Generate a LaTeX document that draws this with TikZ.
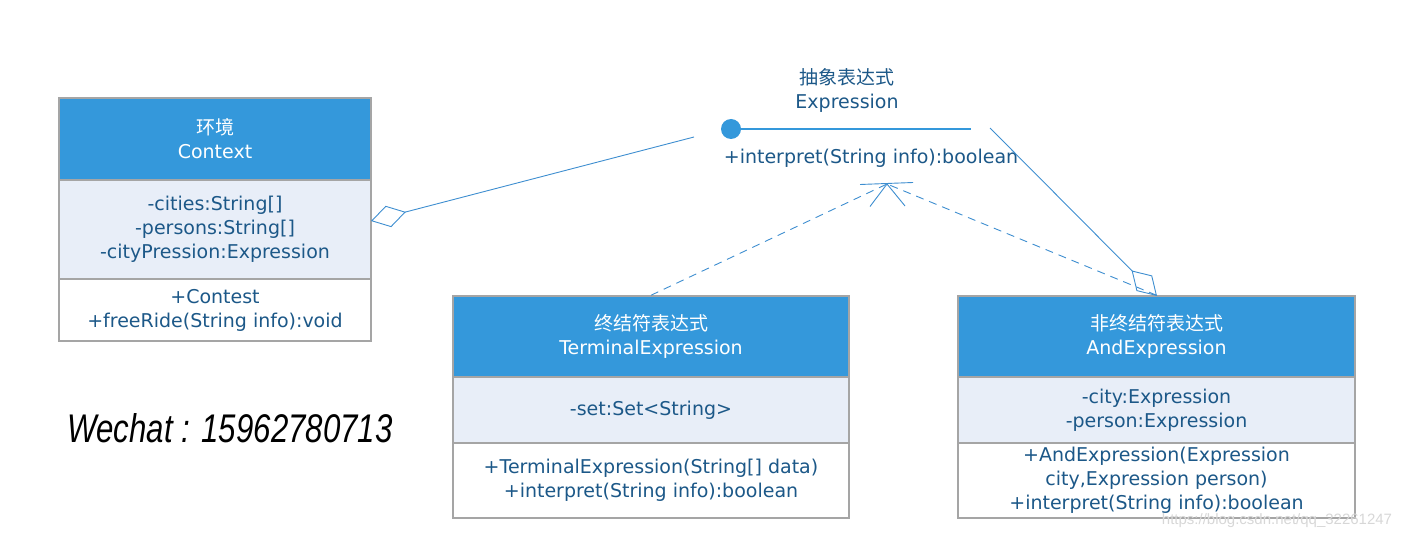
\documentclass[tikz,border=0pt]{standalone}
\usepackage{fontspec}
\setmainfont{DejaVu Sans}
\newfontfamily\cjk{Noto Sans CJK SC}
\newfontfamily\wmfont{Liberation Sans}
\usetikzlibrary{arrows.meta}
\definecolor{hdrblue}{RGB}{52,152,219}
\definecolor{attrfill}{RGB}{232,238,248}
\definecolor{boxgray}{RGB}{165,165,165}
\definecolor{txtblue}{RGB}{28,88,136}
\definecolor{linkblue}{RGB}{62,142,208}
\definecolor{wmgray}{RGB}{215,215,215}
\begin{document}
\begin{tikzpicture}[x=1pt,y=-1pt,
  comp/.style={draw=boxgray, line width=1.5pt, inner sep=0pt, align=center,
    text=txtblue, font=\fontsize{19}{24}\selectfont},
  hdr/.style={comp, fill=hdrblue, text=white},
  attrbox/.style={comp, fill=attrfill},
  methbox/.style={comp, fill=white},
  plain/.style={inner sep=0pt, align=center, text=txtblue, font=\fontsize{19}{24}\selectfont},
  link/.style={draw=linkblue, line width=0.9pt},
  realize/.style={link, dash pattern=on 8pt off 6pt},
  agg/.style={link, -{Diamond[open, length=36pt, width=22pt, line width=0.9pt]}}
]
\useasboundingbox (0,0) rectangle (1408,540);

% Context
\node[hdr, minimum width=312pt, minimum height=82pt] (ctxh) at (215,139) {{\cjk 环境}\\Context};
\node[attrbox, minimum width=312pt, minimum height=99pt] (ctxa) at (215,229.5) {-cities:String[]\\-persons:String[]\\-cityPression:Expression};
\node[methbox, minimum width=312pt, minimum height=62pt] (ctxm) at (215,310) {+Contest\\+freeRide(String info):void};

% Terminal
\node[hdr, minimum width=396pt, minimum height=81pt] (termh) at (651,336.5) {{\cjk 终结符表达式}\\TerminalExpression};
\node[attrbox, minimum width=396pt, minimum height=66pt] (terma) at (651,410) {-set:Set<String>};
\node[methbox, minimum width=396pt, minimum height=75pt] (termm) at (651,480.5) {+TerminalExpression(String[] data)\\+interpret(String info):boolean};

% AndExpression
\node[hdr, minimum width=397pt, minimum height=81pt] (andh) at (1156.5,336.5) {{\cjk 非终结符表达式}\\AndExpression};
\node[attrbox, minimum width=397pt, minimum height=66pt] (anda) at (1156.5,410) {-city:Expression\\-person:Expression};
\node[methbox, minimum width=397pt, minimum height=75pt] (andm) at (1156.5,480.5) {+AndExpression(Expression\\city,Expression person)\\+interpret(String info):boolean};

% Interface Expression
\node[plain] (expt) at (847,90) {{\cjk 抽象表达式}\\Expression};
\node[circle, fill=hdrblue, minimum size=20pt, inner sep=0pt] (expc) at (731,129) {};
\coordinate (expe) at (971,129);
\draw[draw=hdrblue, line width=2.5pt] (expc.center) -- (expe);
\node[plain] (expm) at (871,158) {+interpret(String info):boolean};

% aggregation Context <- Expression
\coordinate (aggfree1) at (694,137);
\coordinate (ctxtip) at (371,221);
\draw[agg] (aggfree1) -- (ctxtip);

% aggregation AndExpression <- Expression
\coordinate (aggfree2) at (990,128);
\coordinate (andtip) at (1157,296);
\draw[agg] (aggfree2) -- (andtip);

% realization
\coordinate (gen) at (887,184);
\draw[realize] (termh.north) -- (gen);
\draw[realize] (andh.north) -- (gen);
\coordinate (genL) at (860,184.5);
\coordinate (genR) at (913,182.5);
\coordinate (genA) at (870,206.5);
\coordinate (genB) at (905,206);
\draw[link] (genL) -- (genR);
\draw[link] (genA) -- (gen) -- (genB);

% Wechat
\node[inner sep=0pt, xscale=0.78, transform shape, font=\wmfont\fontsize{40}{40}\selectfont\itshape, text=black] (wechat) at (230,428) {Wechat : 15962780713};

% watermark
\node[inner sep=0pt, text=wmgray, font=\wmfont\fontsize{15}{15}\selectfont] (wm) at (1277,521) {https://blog.csdn.net/qq\_32261247};
\end{tikzpicture}
\end{document}
